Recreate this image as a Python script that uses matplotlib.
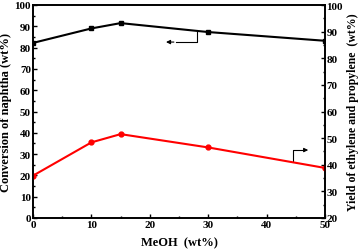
import matplotlib
matplotlib.use("Agg")
import matplotlib.pyplot as plt
from matplotlib.ticker import MultipleLocator

meoh = [0, 10, 15, 30, 50]
conversion = [82.2, 89.0, 91.5, 87.3, 83.2]
yield_ep = [35.9, 48.4, 51.5, 46.5, 38.8]

plt.rcParams['font.family'] = ['Liberation Serif', 'DejaVu Serif']
plt.rcParams['font.weight'] = 'bold'

fig = plt.figure(figsize=(3.59, 2.53), dpi=100)
ax = fig.add_axes([33/359, 1-219/253, 292/359, 213/253])
ax2 = ax.twinx()

ax.plot(meoh, conversion, color='black', lw=1.5, marker='s', ms=3)
ax2.plot(meoh, yield_ep, color='red', lw=1.5, marker='o', ms=3.5)

ax.set_xlim(0, 50)
ax.set_ylim(0, 100)
ax2.set_ylim(20, 100)

ax.xaxis.set_major_locator(MultipleLocator(10))
ax.xaxis.set_minor_locator(MultipleLocator(5))
ax.yaxis.set_major_locator(MultipleLocator(10))
ax.yaxis.set_minor_locator(MultipleLocator(5))
ax2.yaxis.set_major_locator(MultipleLocator(10))
ax2.yaxis.set_minor_locator(MultipleLocator(5))

for a in (ax, ax2):
    a.tick_params(which='both', direction='in', labelsize=8, width=1, pad=1.5)
    a.tick_params(which='major', length=3)
    a.tick_params(which='minor', length=1.5)
    for s in a.spines.values():
        s.set_linewidth(1.2)
    for lab in a.get_xticklabels() + a.get_yticklabels():
        lab.set_fontweight('bold')
ax.tick_params(axis='y', right=False)
ax2.tick_params(axis='y', left=False)
ax2.tick_params(axis='y', pad=1)

ax.set_xlabel('MeOH  (wt%)', fontsize=9, fontweight='bold', labelpad=5)
ax.set_ylabel('Conversion of naphtha (wt%)', fontsize=9, fontweight='bold', labelpad=2)
ax2.set_ylabel('Yield of ethylene and propylene  (wt%)', fontsize=8.5, fontweight='bold', labelpad=3)

# arrow for black line (points left)
ax.plot([28.1, 28.1, 24.5], [87.3, 82.6, 82.6], color='black', lw=0.8)
ax.annotate('', xy=(22.3, 82.6), xytext=(24.6, 82.6),
            arrowprops=dict(arrowstyle='-|>', color='black', lw=0.8, mutation_scale=6))
# arrow for red line (points right)
ax.plot([44.5, 44.5, 46.0], [26.8, 31.9, 31.9], color='black', lw=0.8)
ax.annotate('', xy=(47.6, 31.9), xytext=(45.9, 31.9),
            arrowprops=dict(arrowstyle='-|>', color='black', lw=0.8, mutation_scale=6))

fig.savefig('out.png', dpi=100)
